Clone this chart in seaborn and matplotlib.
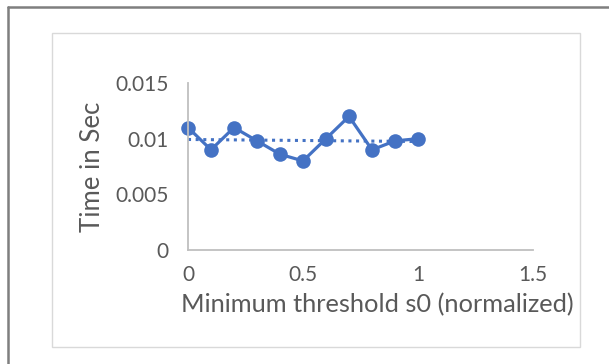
import numpy as np
import pandas as pd
import matplotlib
matplotlib.use("Agg")
import matplotlib.pyplot as plt
import seaborn as sns
from matplotlib.patches import Rectangle
from matplotlib.lines import Line2D

# data
thresholds = [0.0, 0.1, 0.2, 0.3, 0.4, 0.5, 0.6, 0.7, 0.8, 0.9, 1.0]
times = [0.011, 0.009, 0.011, 0.0098, 0.0086, 0.008, 0.010, 0.012, 0.009, 0.0098, 0.010]
x_ticks = [0, 0.5, 1, 1.5]
x_tick_labels = ["0", "0.5", "1", "1.5"]
y_ticks = [0, 0.005, 0.01, 0.015]
y_tick_labels = ["0", "0.005", "0.01", "0.015"]

df = pd.DataFrame({"threshold": thresholds, "time": times})

sns.set_style("white")
plt.rcParams["font.family"] = ["Lato", "DejaVu Sans"]

blue = "#4472C4"
grey_txt = "#595959"
grey_ax = "#BFBFBF"

W, H = 609, 364
fig = plt.figure(figsize=(W / 100, H / 100), dpi=100)

# outer dark border (left + top) and inner light chart frame
fig.add_artist(Line2D([8 / W, 8 / W], [0, 1 - 7 / H], color="#7F7F7F", lw=1.8))
fig.add_artist(Line2D([8 / W, 1], [1 - 7 / H, 1 - 7 / H], color="#7F7F7F", lw=1.8))
fig.add_artist(Rectangle((52 / W, 1 - 347 / H), (580 - 52) / W, (347 - 33) / H,
                         fill=False, edgecolor="#D9D9D9", lw=1.0))

ax = fig.add_axes([188 / W, 1 - 250 / H, (533 - 188) / W, (250 - 83) / H])

# linear trendline (dotted) + data series
sns.regplot(data=df, x="threshold", y="time", scatter=False, ci=None, ax=ax,
            truncate=True,
            line_kws={"color": blue, "linestyle": (0, (1, 1.5)), "lw": 2.2})
sns.lineplot(data=df, x="threshold", y="time", ax=ax, color=blue, lw=2.3,
             marker="o", markersize=10.5, markeredgewidth=0, clip_on=False)

ax.set_xlim(0, 1.5)
ax.set_ylim(0, 0.015)
ax.set_xticks(x_ticks)
ax.set_xticklabels(x_tick_labels)
ax.set_yticks(y_ticks)
ax.set_yticklabels(y_tick_labels)

for s in ["top", "right"]:
    ax.spines[s].set_visible(False)
for s in ["left", "bottom"]:
    ax.spines[s].set_color(grey_ax)
    ax.spines[s].set_linewidth(1.3)

ax.tick_params(axis="both", which="both", direction="out", length=5, width=1.3,
               color=grey_ax, labelcolor=grey_txt, labelsize=15)
ax.tick_params(axis="x", pad=6)
ax.tick_params(axis="y", pad=9)
ax.set_xlabel("Minimum threshold s0 (normalized)", fontsize=18.3, color=grey_txt)
ax.set_ylabel("Time in Sec", fontsize=18.5, color=grey_txt)
ax.xaxis.set_label_coords(0.55, -0.26)
ax.yaxis.set_label_coords(-0.24, 0.5)

fig.savefig("out.png", dpi=100)
